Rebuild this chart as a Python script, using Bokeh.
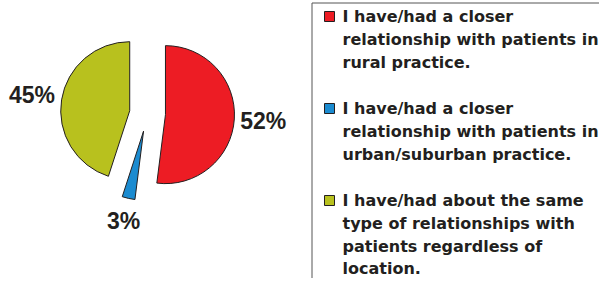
import numpy as np
from bokeh.plotting import figure
from bokeh.models import Range1d, ColumnDataSource
from bokeh.core.properties import value
from bokeh.embed import file_html
from bokeh.resources import INLINE

categories = [
    "I have/had a closer relationship with patients in rural practice.",
    "I have/had a closer relationship with patients in urban/suburban practice.",
    "I have/had about the same type of relationships with patients regardless of location.",
]
values = [52, 3, 45]
pct_labels = ["52%", "3%", "45%"]
legend_lines = [
    ["I have/had a closer", "relationship with patients in", "rural practice."],
    ["I have/had a closer", "relationship with patients in", "urban/suburban practice."],
    ["I have/had about the same", "type of relationships with", "patients regardless of", "location."],
]
colors = ["#ed1c24", "#1b8bd0", "#b8c11e"]

W, H = 599, 278


def py(y):
    # convert picture pixel y (from top) to data y
    return H - y


p = figure(width=W, height=H, output_backend="svg", toolbar_location=None,
           x_range=Range1d(0, W), y_range=Range1d(0, H),
           min_border=0)
p.axis.visible = False
p.grid.visible = False
p.outline_line_color = None
p.background_fill_color = "white"

# pie
cx, cy = 147, py(113)
R = 69
explode = 18
vals = np.array(values, dtype=float)
fr = vals / vals.sum()
ends = np.pi / 2 - 2 * np.pi * np.cumsum(fr)
starts = np.concatenate([[np.pi / 2], ends[:-1]])
mids = (starts + ends) / 2
wx = cx + explode * np.cos(mids)
wy = cy + explode * np.sin(mids)
src = ColumnDataSource(dict(x=wx, y=wy, s=starts, e=ends, c=colors))
p.wedge(x="x", y="y", radius=R, start_angle="s", end_angle="e", direction="clock",
        fill_color="c", line_color="#231f20", line_width=1, source=src)

lab_r = np.array([116, 110, 117])
lx = cx + lab_r * np.cos(mids)
ly = cy + lab_r * np.sin(mids)
p.text(x=lx, y=ly, text=pct_labels, text_align="center", text_baseline="middle",
       text_font=value("Liberation Sans"), text_font_style="bold",
       text_font_size="23px", text_color="#231f20")

# legend box
bx0 = 311.5
p.quad(left=bx0, right=bx0 + 400, top=py(2.5), bottom=py(400),
       fill_color=None, line_color="#555555", line_width=1)

tx, sqx = 342, 329
xs, ys, ts = [], [], []
sq_y = []
for g, lines in enumerate(legend_lines):
    y0 = 16 + g * 92
    sq_y.append(py(y0))
    for k, t in enumerate(lines):
        xs.append(tx)
        ys.append(py(y0 + k * 22.8))
        ts.append(t)
p.rect(x=[sqx] * 3, y=sq_y, width=10, height=10, fill_color=colors,
       line_color="#231f20", line_width=1)
p.text(x=xs, y=ys, text=ts, text_align="left", text_baseline="middle",
       text_font=value("DejaVu Sans"), text_font_style="bold",
       text_font_size="16px", text_color="#231f20")

open("out.html", "w").write(file_html(p, INLINE))
